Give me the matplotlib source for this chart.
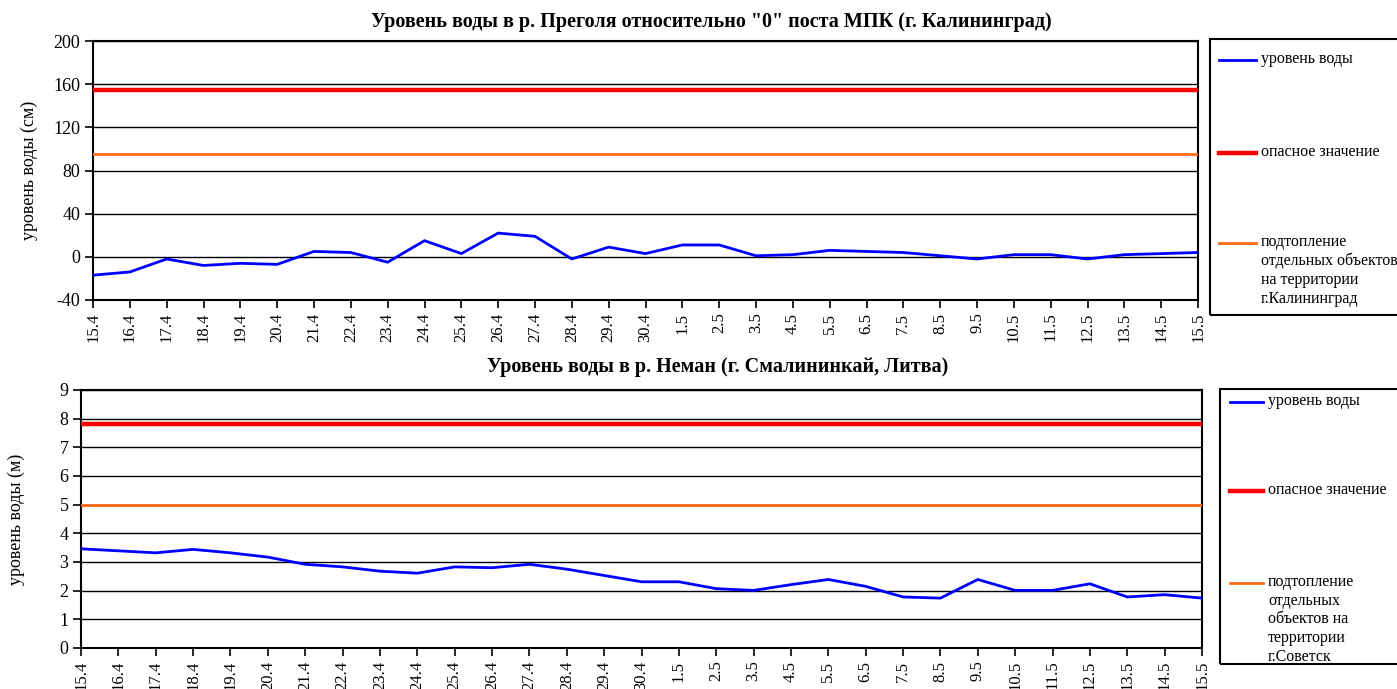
import numpy as np
import matplotlib
matplotlib.use("Agg")
import matplotlib.pyplot as plt
from matplotlib.lines import Line2D
from matplotlib.patches import Rectangle

# dates (day.month)
dates = ["15.4", "16.4", "17.4", "18.4", "19.4", "20.4", "21.4", "22.4", "23.4", "24.4",
         "25.4", "26.4", "27.4", "28.4", "29.4", "30.4", "1.5", "2.5", "3.5", "4.5",
         "5.5", "6.5", "7.5", "8.5", "9.5", "10.5", "11.5", "12.5", "13.5", "14.5", "15.5"]

# Pregolya, cm relative to "0" of MPK post
pregolya = [-17, -14, -2, -8, -6, -7, 5, 4, -5, 15,
            3, 22, 19, -2, 9, 3, 11, 11, 1, 2,
            6, 5, 4, 1, -2, 2, 2, -2, 2, 3, 4]
pregolya_danger = 155
pregolya_flood = 95

# Neman at Smalininkai, m
neman = [3.46, 3.39, 3.32, 3.44, 3.32, 3.17, 2.92, 2.83, 2.68, 2.61,
         2.83, 2.80, 2.92, 2.75, 2.53, 2.31, 2.31, 2.07, 2.01, 2.21,
         2.39, 2.15, 1.78, 1.74, 2.39, 2.01, 2.01, 2.24, 1.78, 1.86, 1.74]
neman_danger = 7.83
neman_flood = 5.0

lbl_level = "уровень воды"
lbl_danger = "опасное значение"
lbl_flood_top = "подтопление\nотдельных объектов\nна территории\nг.Калининград"
lbl_flood_bot = "подтопление\nотдельных\nобъектов на\nтерритории\nг.Советск"

plt.rcParams['font.family'] = ['Liberation Serif', 'DejaVu Serif']
plt.rcParams['axes.unicode_minus'] = False

W, H = 1397, 689
fig = plt.figure(figsize=(W / 100, H / 100), dpi=100)


def px_axes(l, t, r, b):
    return fig.add_axes([l / W, 1 - b / H, (r - l) / W, (b - t) / H])


def draw(ax, vals, danger, flood, ylim, yticks, ylabel, title, lab_x, title_xy):
    x = np.arange(len(dates))
    ax.axhline(danger, color='#ff0000', lw=3.2, zorder=3)
    ax.axhline(flood, color='#ff6a10', lw=2, zorder=3)
    ax.plot(x, vals, color='#0000ff', lw=2, zorder=4)
    ax.set_xlim(0, len(dates) - 1)
    ax.set_ylim(*ylim)
    ax.set_yticks(yticks)
    ax.set_xticks(x)
    ax.set_xticklabels(dates, rotation=90, fontsize=12)
    ax.tick_params(axis='y', labelsize=13, length=6, width=1.2, direction='out', pad=3)
    ax.tick_params(axis='x', length=6, width=1.2, direction='out', pad=3)
    ax.grid(axis='y', color='black', lw=1, zorder=1)
    for s in ax.spines.values():
        s.set_linewidth(1.5)
        s.set_color('black')
    ax.set_ylabel(ylabel, fontsize=13)
    ax.yaxis.set_label_coords(lab_x, 0.5)
    fig.text(title_xy[0] / W, 1 - title_xy[1] / H, title, fontsize=14.5, fontweight='bold',
             ha='center', va='center')


def legend_box(l, t, r, b, rows, hx0, hx1):
    fig.add_artist(Rectangle((l / W, 1 - b / H), (r - l) / W, (b - t) / H,
                             transform=fig.transFigure, fill=False, ec='black', lw=1.5))
    for y, col, lw, txt in rows:
        fig.add_artist(Line2D([hx0 / W, hx1 / W], [1 - y / H, 1 - y / H],
                              transform=fig.transFigure, color=col, lw=lw))
        fig.text(hx1 / W + 5 / W, 1 - (y - 9) / H, txt, fontsize=11.5, va='top', ha='left',
                 linespacing=1.22)


ax1 = px_axes(93, 41, 1198, 300)
draw(ax1, pregolya, pregolya_danger, pregolya_flood, (-40, 200), np.arange(-40, 201, 40),
     "уровень воды (см)",
     'Уровень воды в р. Преголя относительно "0" поста МПК (г. Калининград)', -0.05,
     (711, 22))

ax2 = px_axes(81, 390, 1202, 648)
draw(ax2, neman, neman_danger, neman_flood, (0, 9), np.arange(0, 10, 1),
     "уровень воды (м)",
     "Уровень воды в р. Неман (г. Смалининкай, Литва)", -0.05, (718, 367))

legend_box(1210, 39, 1400, 315,
           [(60, '#0000ff', 2, lbl_level), (153, '#ff0000', 3.2, lbl_danger),
            (243, '#ff6a10', 2, lbl_flood_top)], 1219, 1256)
legend_box(1220, 389, 1400, 664,
           [(402, '#0000ff', 2, lbl_level), (491, '#ff0000', 3.2, lbl_danger),
            (583, '#ff6a10', 2, lbl_flood_bot)], 1230, 1263)

fig.savefig("out.png", dpi=100)
